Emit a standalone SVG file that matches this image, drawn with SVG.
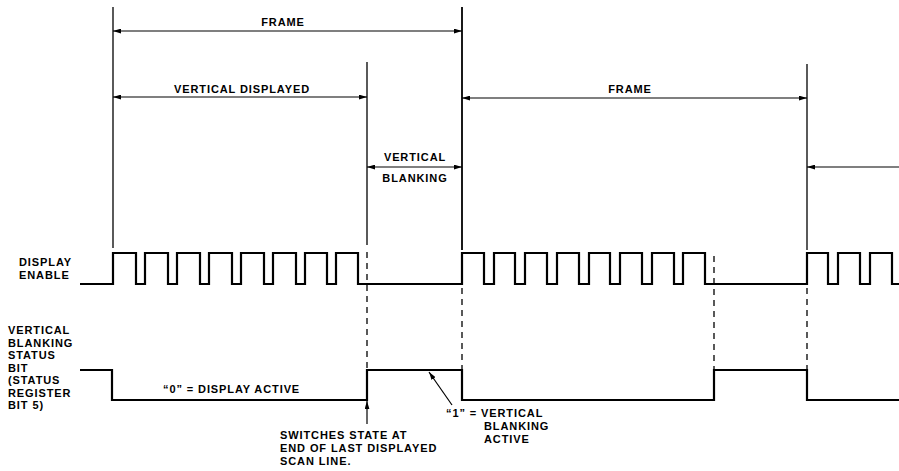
<svg xmlns="http://www.w3.org/2000/svg" width="899" height="471" viewBox="0 0 899 471">
<defs>
<marker id="ah" viewBox="0 0 10 6" refX="10" refY="3" markerWidth="8" markerHeight="5" markerUnits="userSpaceOnUse" orient="auto-start-reverse">
<path d="M0,0 L10,3 L0,6 Z" fill="#000"/>
</marker>
<style>
.t{font-family:"Liberation Sans",Arial,sans-serif;font-size:11px;font-weight:bold;fill:#000;letter-spacing:0.9px}
.c{text-anchor:middle}
.dim{stroke:#000;stroke-width:1.2;fill:none;marker-start:url(#ah);marker-end:url(#ah)}
.v{stroke:#000;stroke-width:1.3;fill:none}
.vd{stroke:#000;stroke-width:1.3;fill:none;stroke-dasharray:6 5}
.w{stroke:#000;stroke-width:2.2;fill:none;stroke-linejoin:miter}
</style>
</defs>
<rect width="899" height="471" fill="#fff"/>
<g id="connectors">
<line class="v" x1="113" y1="7" x2="113" y2="248"/>
<line class="v" x1="462" y1="7" x2="462" y2="250" style="stroke-width:1.8"/>
<line class="v" x1="367" y1="62" x2="367" y2="245"/>
<line class="vd" x1="367" y1="252" x2="367" y2="370"/>
<line class="vd" x1="462" y1="288" x2="462" y2="370"/>
<line class="vd" x1="714" y1="256" x2="714" y2="370"/>
<line class="v" x1="807" y1="64" x2="807" y2="250"/>
<line class="vd" x1="807" y1="288" x2="807" y2="370"/>
<line class="dim" x1="113" y1="31" x2="462" y2="31"/>
<line class="dim" x1="113" y1="97" x2="367" y2="97"/>
<line class="dim" x1="462" y1="98" x2="807" y2="98"/>
<line class="dim" x1="367" y1="167" x2="462" y2="167"/>
<line stroke="#000" stroke-width="1.2" x1="899" y1="167" x2="807" y2="167" marker-end="url(#ah)"/>
<line stroke="#000" stroke-width="1.2" x1="367" y1="424" x2="367" y2="401" marker-end="url(#ah)"/>
<line stroke="#000" stroke-width="1.2" x1="452" y1="405" x2="429" y2="372" marker-end="url(#ah)"/>
</g>
<g id="display-enable">
<text class="t" x="19" y="266">DISPLAY</text>
<text class="t" x="19" y="279">ENABLE</text>
<path class="w" d="M80,284 H113 V253 H136 V284 H145 V253 H168 V284 H177 V253 H200 V284 H209 V253 H232 V284 H241 V253 H264 V284 H273 V253 H296 V284 H305 V253 H327 V284 H336 V253 H358 V284 H462 V253 H484 V284 H494 V253 H515 V284 H525 V253 H547 V284 H557 V253 H579 V284 H589 V253 H610 V284 H620 V253 H642 V284 H652 V253 H674 V284 H683 V253 H705 V284 H807 V253 H828 V284 H838 V253 H860 V284 H870 V253 H892 V284 H899"/>
</g>
<g id="status-bit">
<text class="t" x="8" y="334">VERTICAL</text>
<text class="t" x="8" y="347">BLANKING</text>
<text class="t" x="8" y="359">STATUS</text>
<text class="t" x="8" y="372">BIT</text>
<text class="t" x="8" y="384">(STATUS</text>
<text class="t" x="8" y="397">REGISTER</text>
<text class="t" x="8" y="409">BIT 5)</text>
<path class="w" d="M80,370 H112 V400 H367 V370 H462 V400 H714 V370 H807 V400 H899"/>
<text class="t" x="163" y="393">“0” = DISPLAY ACTIVE</text>
</g>
<g id="labels">
<text class="t c" x="283" y="26">FRAME</text>
<text class="t c" x="242" y="93">VERTICAL DISPLAYED</text>
<text class="t c" x="630" y="93">FRAME</text>
<text class="t c" x="415" y="161">VERTICAL</text>
<text class="t c" x="415" y="182">BLANKING</text>
</g>
<g id="note-switch">
<text class="t" x="280" y="439">SWITCHES STATE AT</text>
<text class="t" x="280" y="452">END OF LAST DISPLAYED</text>
<text class="t" x="280" y="465">SCAN LINE.</text>
</g>
<g id="note-blanking">
<text class="t" x="446" y="417">“1” = VERTICAL</text>
<text class="t" x="484" y="430">BLANKING</text>
<text class="t" x="484" y="443">ACTIVE</text>
</g>
</svg>
